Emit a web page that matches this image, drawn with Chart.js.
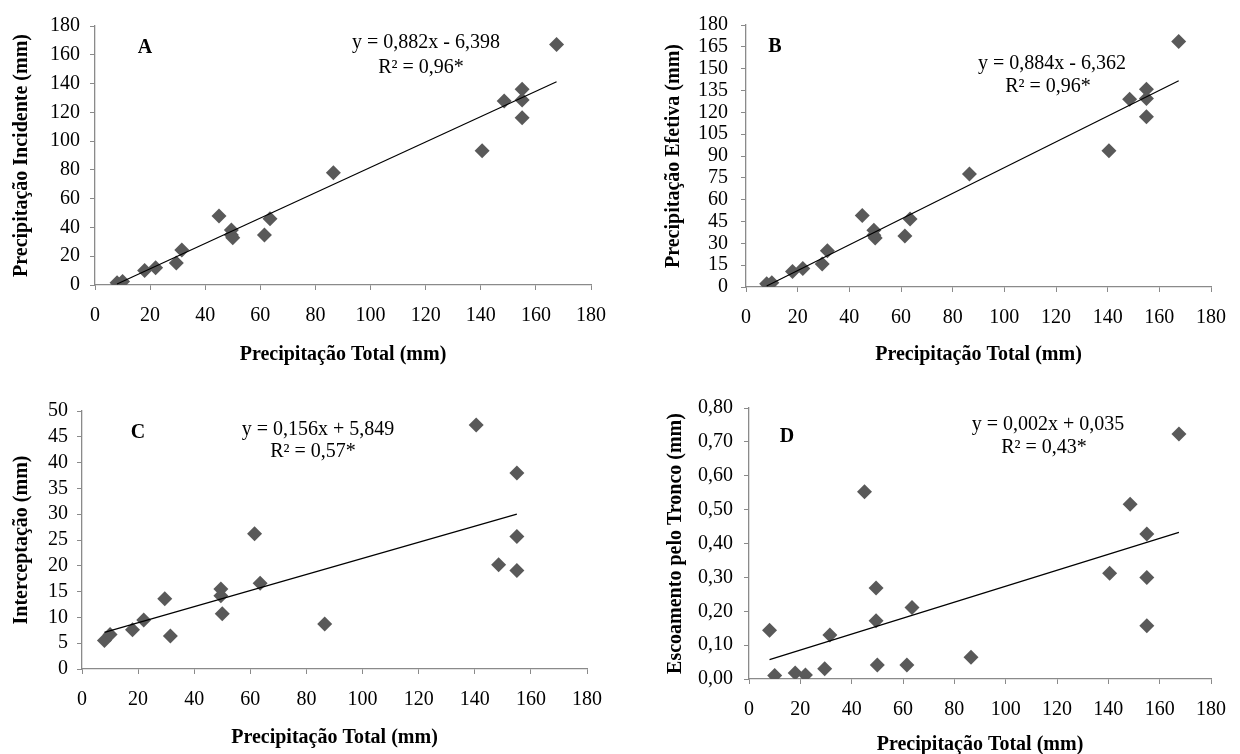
<!DOCTYPE html>
<html>
<head>
<meta charset="utf-8">
<script src="https://cdn.jsdelivr.net/npm/chart.js@4.4.1/dist/chart.umd.min.js"></script>
<style>
  html, body { margin: 0; padding: 0; background: #fff; overflow: hidden; width: 1240px; height: 754px; }
  canvas { position: absolute; }
</style>
</head>
<body>
<canvas id="chartA" width="620" height="377" style="left:0;top:0"></canvas>
<canvas id="chartB" width="620" height="377" style="left:620px;top:0"></canvas>
<canvas id="chartC" width="620" height="400" style="left:0;top:377px"></canvas>
<canvas id="chartD" width="620" height="400" style="left:620px;top:377px"></canvas>
<script>
// Precipitação total (mm) - same events on every panel
const xTotal = [8, 10, 18, 22, 29.5, 31.5, 45, 49.5, 49.5, 50, 61.5, 63.5, 86.5, 140.5, 148.5, 155, 155, 155, 167.5];

// panel values (null = not shown on the panel)
const incidente = [1.6, 2.4, 10, 12, 15.3, 24.3, 48, 38.2, 34.7, 32.8, 34.8, 46, 78, 93.3, 127.8, 136, 128.5, 116.2, 167.1];
const efetiva = [2.2, 3, 10.6, 12.7, 15.8, 24.9, 49.2, 39, 35.6, 33.6, 35.1, 46.7, 77.7, 93.6, 129, 135.8, 129.5, 117, 168.7];
const interceptacao = [5.5, 6.7, 7.6, 9.5, 13.6, 6.4, null, 15.5, 14.2, 10.7, 26.2, 16.6, 8.7, 47.3, 20.2, 38, 25.7, 19.1, null];
const escoamento = [0.144, 0.01, 0.018, 0.012, 0.03, 0.13, 0.553, 0.269, 0.172, 0.041, 0.041, 0.211, 0.064, 0.312, 0.516, 0.428, 0.30, 0.157, 0.723];

// trend line end points [x, y]
const trendA = [[8, 0.66], [167.5, 141.3]];
const trendB = [[8, 0.71], [167.5, 141.7]];
const trendC = [[8, 7.1], [155, 30.0]];
const trendD = [[8, 0.057], [167.5, 0.433]];

// axis ranges [min, max, step]
const xRange = [0, 180, 20];
const yRangeA = [0, 180, 20];
const yRangeB = [0, 180, 15];
const yRangeC = [0, 50, 5];
const yRangeD = [0, 0.8, 0.1];

const xTitle = 'Precipitação Total (mm)';

const FONT = "'Liberation Serif', 'Times New Roman', serif";
const AXIS = '#8a8a8a';

// draws panel letter and regression text
const panelText = {
    id: 'panelText',
    afterDraw(chart, args, opts) {
        const ctx = chart.ctx;
        ctx.save();
        ctx.fillStyle = '#000';
        ctx.textAlign = 'center';
        ctx.textBaseline = 'middle';
        (opts.items || []).forEach(it => {
            ctx.font = it.font;
            ctx.fillText(it.text, it.x, it.y);
        });
        ctx.restore();
    }
};

function toPoints(values) {
    return xTotal.map((x, i) => ({ x: x, y: values[i] })).filter(p => p.y !== null);
}

function makePanel(id, values, trend, yRange, yTitle, fmt, lay, texts) {
    const ctx = document.getElementById(id).getContext('2d');
    return new Chart(ctx, {
        type: 'scatter',
        data: {
            datasets: [{
                data: trend.map(p => ({ x: p[0], y: p[1] })),
                showLine: true,
                borderColor: '#000',
                borderWidth: 1.2,
                pointRadius: 0
            }, {
                data: toPoints(values),
                pointStyle: 'rectRot',
                pointRadius: 7.5,
                backgroundColor: '#595959',
                borderColor: '#595959',
                borderWidth: 0
            }]
        },
        options: {
            responsive: false,
            animation: false,
            layout: { padding: lay.padding },
            plugins: {
                legend: { display: false },
                tooltip: { enabled: false },
                panelText: { items: texts }
            },
            scales: {
                x: {
                    type: 'linear',
                    min: xRange[0], max: xRange[1],
                    ticks: { stepSize: xRange[2], autoSkip: false, maxRotation: 0, color: '#000', padding: lay.xPad, font: { family: FONT, size: 20 } },
                    grid: { drawOnChartArea: false, drawTicks: true, tickLength: 5, color: AXIS },
                    border: { color: AXIS, width: 1.3 },
                    title: { display: true, text: xTitle, color: '#000', padding: 0, font: { family: FONT, size: 20, weight: 'bold' } },
                    afterFit: s => { s.height = lay.xHeight; }
                },
                y: {
                    min: yRange[0], max: yRange[1],
                    ticks: { stepSize: yRange[2], autoSkip: false, color: '#000', padding: lay.yPad, font: { family: FONT, size: 20 }, callback: fmt },
                    grid: { drawOnChartArea: false, drawTicks: true, tickLength: 5, color: AXIS },
                    border: { color: AXIS, width: 1.3 },
                    title: { display: true, text: yTitle, color: '#000', padding: { top: lay.yTitlePad, bottom: 0 }, font: { family: FONT, size: 20, weight: 'bold' } },
                    afterFit: s => { s.width = lay.yWidth; }
                }
            }
        },
        plugins: [panelText]
    });
}

const intFmt = v => String(Math.round(v));
const decFmt = v => v.toFixed(2).replace('.', ',');
const bold = 'bold 20px ' + FONT;
const normal = '20px ' + FONT;

makePanel('chartA', incidente, trendA, yRangeA, 'Precipitação Incidente (mm)', intFmt,
    { padding: { left: 0, right: 28, top: 26, bottom: 10 }, yWidth: 95, xHeight: 82, xPad: 14, yPad: 10, yTitlePad: 10 },
    [{ text: 'A', x: 145, y: 48, font: bold },
     { text: 'y = 0,882x - 6,398', x: 426, y: 43, font: normal },
     { text: 'R² = 0,96*', x: 421, y: 68, font: normal }]);

makePanel('chartB', efetiva, trendB, yRangeB, 'Precipitação Efetiva (mm)', intFmt,
    { padding: { left: 0, right: 15, top: 23, bottom: 10 }, yWidth: 126, xHeight: 80, xPad: 14, yPad: 13, yTitlePad: 42 },
    [{ text: 'B', x: 155, y: 47, font: bold },
     { text: 'y = 0,884x - 6,362', x: 432, y: 64, font: normal },
     { text: 'R² = 0,96*', x: 428, y: 87, font: normal }]);

makePanel('chartC', interceptacao, trendC, yRangeC, 'Interceptação (mm)', intFmt,
    { padding: { left: 0, right: 33, top: 34, bottom: 27 }, yWidth: 82, xHeight: 81, xPad: 14, yPad: 9, yTitlePad: 10 },
    [{ text: 'C', x: 138, y: 56, font: bold },
     { text: 'y = 0,156x + 5,849', x: 318, y: 53, font: normal },
     { text: 'R² = 0,57*', x: 313, y: 75, font: normal }]);

makePanel('chartD', escoamento, trendD, yRangeD, 'Escoamento pelo Tronco (mm)', decFmt,
    { padding: { left: 0, right: 18, top: 31, bottom: 20 }, yWidth: 129, xHeight: 78, xPad: 14, yPad: 11, yTitlePad: 44 },
    [{ text: 'D', x: 167, y: 60, font: bold },
     { text: 'y = 0,002x + 0,035', x: 428, y: 48, font: normal },
     { text: 'R² = 0,43*', x: 424, y: 71, font: normal }]);
</script>
</body>
</html>
